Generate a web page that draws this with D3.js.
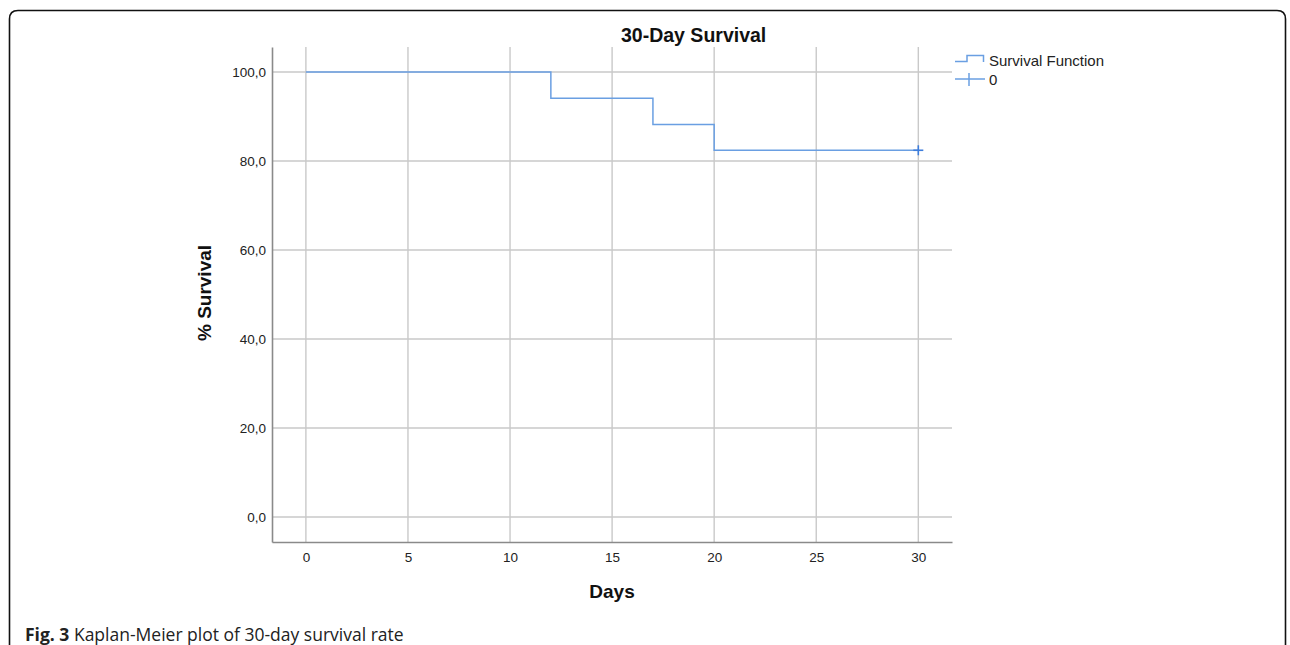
<!DOCTYPE html>
<html>
<head>
<meta charset="utf-8">
<script src="https://cdn.jsdelivr.net/npm/d3@7"></script>
<style>
  body { margin: 0; background: #fff; }
  svg { display: block; }
</style>
</head>
<body>
<svg id="chart" width="1290" height="645"></svg>
<script>
// Kaplan-Meier steps (days, % survival)
var stepDays = [0, 12, 17, 20, 30];
var stepSurvival = [100, 94.1, 88.2, 82.4, 82.4];
var censoredDays = [30];
var censoredSurvival = [82.4];
var xTicks = [0, 5, 10, 15, 20, 25, 30];
var yTicks = [0, 20, 40, 60, 80, 100];
var legendLabels = ["Survival Function", "0"];

var svg = d3.select("#chart"),
  LEFT = 272,
  RIGHT = 952,
  TOP = 47,
  BOTTOM = 542,
  lineColor = "#6a9fe2",
  gridColor = "#c9c9c9",
  axisColor = "#8a8a8a",
  font = "Liberation Sans, Arial, sans-serif";

var x = d3.scaleLinear().domain([-1.66, 31.65]).range([LEFT, RIGHT]);
var y = d3.scaleLinear().domain([-5.6, 105.6]).range([BOTTOM, TOP]);

// outer frame
svg.append("path")
  .attr("d", "M9.5,660 L9.5,19 Q9.5,10.5 18,10.5 L1277,10.5 Q1285.5,10.5 1285.5,19 L1285.5,660")
  .attr("fill", "none")
  .attr("stroke", "#111")
  .attr("stroke-width", 1.6);

// grid
svg.append("g").selectAll("line").data(yTicks).enter().append("line")
  .attr("x1", LEFT).attr("x2", RIGHT)
  .attr("y1", function(d) { return y(d); })
  .attr("y2", function(d) { return y(d); })
  .attr("stroke", gridColor).attr("stroke-width", 1.4);

svg.append("g").selectAll("line").data(xTicks).enter().append("line")
  .attr("y1", TOP).attr("y2", BOTTOM)
  .attr("x1", function(d) { return x(d); })
  .attr("x2", function(d) { return x(d); })
  .attr("stroke", gridColor).attr("stroke-width", 1.4);

// axes
var xAxis = d3.axisBottom(x).tickValues(xTicks).tickSize(0).tickPadding(10)
  .tickFormat(d3.format("d"));
var yAxis = d3.axisLeft(y).tickValues(yTicks).tickSize(0).tickPadding(6)
  .tickFormat(function(d) { return d.toFixed(1).replace(".", ","); });

var gx = svg.append("g")
  .attr("transform", "translate(0," + BOTTOM + ")")
  .call(xAxis);
var gy = svg.append("g")
  .attr("transform", "translate(" + LEFT + ",0)")
  .call(yAxis);

[gx, gy].forEach(function(g) {
  g.select(".domain").attr("stroke", axisColor).attr("stroke-width", 1.6);
  g.selectAll("text").attr("font-family", font).attr("font-size", 13.5).attr("fill", "#222");
});

// survival step line
var pts = stepDays.map(function(d, i) { return [d, stepSurvival[i]]; });
var line = d3.line()
  .x(function(d) { return x(d[0]); })
  .y(function(d) { return y(d[1]); })
  .curve(d3.curveStepAfter);

svg.append("path")
  .datum(pts)
  .attr("d", line)
  .attr("fill", "none")
  .attr("stroke", lineColor)
  .attr("stroke-width", 1.5);

// censored marks
var cg = svg.append("g");
censoredDays.forEach(function(d, i) {
  var cx = x(d), cy = y(censoredSurvival[i]);
  cg.append("line").attr("x1", cx - 5).attr("x2", cx + 5).attr("y1", cy).attr("y2", cy)
    .attr("stroke", "#3d7ddc").attr("stroke-width", 1.6);
  cg.append("line").attr("x1", cx).attr("x2", cx).attr("y1", cy - 5).attr("y2", cy + 5)
    .attr("stroke", "#3d7ddc").attr("stroke-width", 1.6);
});

// titles
svg.append("text")
  .attr("x", 621).attr("y", 42)
  .attr("font-family", font).attr("font-weight", "bold").attr("font-size", 19.5)
  .attr("fill", "#111")
  .text("30-Day Survival");

svg.append("text")
  .attr("x", (LEFT + RIGHT) / 2).attr("y", 598)
  .attr("text-anchor", "middle")
  .attr("font-family", font).attr("font-weight", "bold").attr("font-size", 19)
  .attr("fill", "#111")
  .text("Days");

svg.append("text")
  .attr("transform", "translate(211,293) rotate(-90)")
  .attr("text-anchor", "middle")
  .attr("font-family", font).attr("font-weight", "bold").attr("font-size", 19)
  .attr("fill", "#111")
  .text("% Survival");

// legend
var lg = svg.append("g");
lg.append("path")
  .attr("d", "M955,61.5 L967,61.5 L967,55.5 L983.5,55.5 L983.5,62")
  .attr("fill", "none").attr("stroke", lineColor).attr("stroke-width", 1.5);
lg.append("line").attr("x1", 955).attr("x2", 985).attr("y1", 79).attr("y2", 79)
  .attr("stroke", lineColor).attr("stroke-width", 1.5);
lg.append("line").attr("x1", 969).attr("x2", 969).attr("y1", 73).attr("y2", 86)
  .attr("stroke", lineColor).attr("stroke-width", 1.5);
lg.selectAll("text").data(legendLabels).enter().append("text")
  .attr("x", 989)
  .attr("y", function(d, i) { return 65.5 + i * 19; })
  .attr("font-family", font).attr("font-size", 15)
  .attr("fill", "#222")
  .text(function(d) { return d; });

// caption
var cap = svg.append("text")
  .attr("x", 25).attr("y", 641)
  .attr("font-family", "Open Sans, Noto Sans, sans-serif").attr("font-size", 17.5)
  .attr("fill", "#222");
cap.append("tspan").attr("font-weight", "bold").text("Fig. 3");
cap.append("tspan").text(" Kaplan-Meier plot of 30-day survival rate");
</script>
</body>
</html>
